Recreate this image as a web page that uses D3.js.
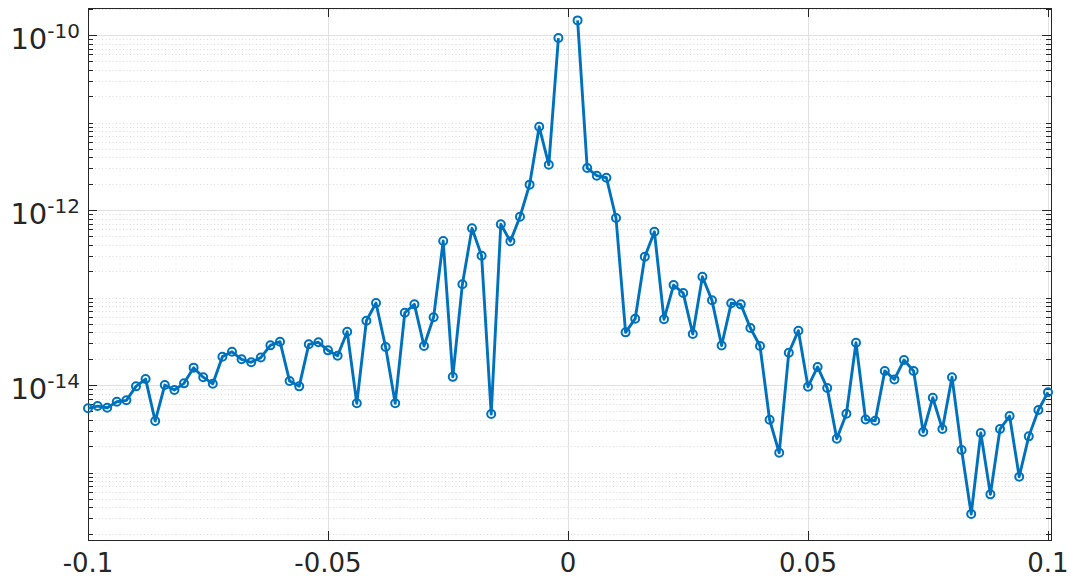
<!DOCTYPE html>
<html>
<head>
<meta charset="utf-8">
<script src="https://cdn.jsdelivr.net/npm/d3@7"></script>
<style>
  html, body { margin: 0; padding: 0; background: #fff; }
  svg { display: block; }
  text { font-family: "DejaVu Sans", sans-serif; fill: #262626; }
</style>
</head>
<body>
<svg id="chart" width="1071" height="578"></svg>
<script>
// Offsets sampled every 0.002 from -0.1 to 0.1 (the sample at 0 has no value)
const xValues = d3.range(101).map(i => +(-0.1 + 0.002 * i).toFixed(3));

// Magnitude at each offset
const yValues = [
  5.42e-15, 5.75e-15, 5.50e-15, 6.45e-15, 6.69e-15, 9.66e-15, 1.17e-14, 3.88e-15, 1.00e-14, 8.77e-15,
  1.045e-14, 1.58e-14, 1.23e-14, 1.035e-14, 2.11e-14, 2.40e-14, 1.97e-14, 1.82e-14, 2.06e-14, 2.84e-14,
  3.13e-14, 1.11e-14, 9.66e-15, 2.92e-14, 3.08e-14, 2.49e-14, 2.16e-14, 4.07e-14, 6.18e-15, 5.43e-14,
  8.65e-14, 2.72e-14, 6.18e-15, 6.70e-14, 8.36e-14, 2.79e-14, 5.94e-14, 4.42e-13, 1.24e-14, 1.42e-13,
  6.18e-13, 3.01e-13, 4.66e-15, 6.87e-13, 4.39e-13, 8.38e-13, 1.95e-12, 8.95e-12, 3.29e-12, 9.24e-11,
  null,
  1.47e-10, 3.02e-12, 2.47e-12, 2.34e-12, 8.11e-13, 4.00e-14, 5.73e-14, 2.92e-13, 5.65e-13, 5.64e-14,
  1.39e-13, 1.125e-13, 3.83e-14, 1.73e-13, 9.29e-14, 2.83e-14, 8.59e-14, 8.36e-14, 4.48e-14, 2.79e-14,
  4.01e-15, 1.68e-15, 2.34e-14, 4.18e-14, 9.57e-15, 1.61e-14, 9.24e-15, 2.43e-15, 4.70e-15, 3.04e-14,
  4.03e-15, 3.91e-15, 1.45e-14, 1.16e-14, 1.93e-14, 1.45e-14, 2.90e-15, 7.16e-15, 3.14e-15, 1.23e-14,
  1.81e-15, 3.36e-16, 2.83e-15, 5.63e-16, 3.14e-15, 4.42e-15, 8.95e-16, 2.59e-15, 5.18e-15, 8.26e-15
];

// Axis ticks
const xTicks = [-0.1, -0.05, 0, 0.05, 0.1];
const xTickLabels = ["-0.1", "-0.05", "0", "0.05", "0.1"];
const yTickExponents = [-14, -12, -10];
const yDomain = [Math.pow(10, -15.771), Math.pow(10, -9.691)];

const svg = d3.select("#chart");
const plot = { left: 88, right: 1048, top: 8, bottom: 540, frameRight: 1051 };

const x = d3.scaleLinear().domain([-0.1, 0.1]).range([plot.left, plot.right]);
const y = d3.scaleLog().domain(yDomain).range([plot.bottom, plot.top]);

const data = xValues.map((v, i) => ({ x: v, y: yValues[i] }));

// Minor log ticks: every m*10^k inside the domain that is not a labelled decade
const minorTicks = [];
for (let k = -16; k <= -9; k++) {
  for (let m = 1; m <= 9; m++) {
    const v = m * Math.pow(10, k);
    if (v < yDomain[0] || v > yDomain[1]) continue;
    if (m === 1 && yTickExponents.includes(k)) continue;
    minorTicks.push(v);
  }
}
const majorY = yTickExponents.map(e => Math.pow(10, e));

const grid = svg.append("g");
// minor dotted grid
grid.selectAll("line.minor").data(minorTicks).enter().append("line")
  .attr("x1", plot.left).attr("x2", plot.frameRight)
  .attr("y1", d => Math.round(y(d)) + 0.5).attr("y2", d => Math.round(y(d)) + 0.5)
  .attr("stroke", "#dadada").attr("stroke-width", 1).attr("stroke-dasharray", "1,2.5");
// major solid grid
grid.selectAll("line.majorY").data(majorY).enter().append("line")
  .attr("x1", plot.left).attr("x2", plot.frameRight)
  .attr("y1", d => Math.round(y(d)) + 0.5).attr("y2", d => Math.round(y(d)) + 0.5)
  .attr("stroke", "#e1e1e1").attr("stroke-width", 1);
grid.selectAll("line.majorX").data(xTicks).enter().append("line")
  .attr("x1", d => Math.round(x(d)) + 0.5).attr("x2", d => Math.round(x(d)) + 0.5)
  .attr("y1", plot.top).attr("y2", plot.bottom)
  .attr("stroke", "#e1e1e1").attr("stroke-width", 1);

// Frame and inward ticks
const axisColor = "#262626";
const axes = svg.append("g").attr("stroke", axisColor).attr("stroke-width", 1);
axes.append("rect")
  .attr("x", plot.left + 0.5).attr("y", plot.top + 0.5)
  .attr("width", plot.frameRight - plot.left).attr("height", plot.bottom - plot.top)
  .attr("fill", "none");
xTicks.forEach(t => {
  const px = Math.round(x(t)) + 0.5;
  axes.append("line").attr("x1", px).attr("x2", px).attr("y1", plot.bottom).attr("y2", plot.bottom - 9);
  axes.append("line").attr("x1", px).attr("x2", px).attr("y1", plot.top).attr("y2", plot.top + 9);
});
majorY.forEach(t => {
  const py = Math.round(y(t)) + 0.5;
  axes.append("line").attr("x1", plot.left).attr("x2", plot.left + 9).attr("y1", py).attr("y2", py);
  axes.append("line").attr("x1", plot.frameRight).attr("x2", plot.frameRight - 9).attr("y1", py).attr("y2", py);
});
minorTicks.forEach(t => {
  const py = Math.round(y(t)) + 0.5;
  axes.append("line").attr("x1", plot.left).attr("x2", plot.left + 5).attr("y1", py).attr("y2", py);
  axes.append("line").attr("x1", plot.frameRight).attr("x2", plot.frameRight - 5).attr("y1", py).attr("y2", py);
});

// X tick labels
svg.append("g").selectAll("text").data(xTicks).enter().append("text")
  .attr("x", d => x(d)).attr("y", 572)
  .attr("text-anchor", "middle").attr("font-size", 26)
  .text((d, i) => xTickLabels[i]);

// Y tick labels: 10 with superscript exponent
const yl = svg.append("g").selectAll("text").data(yTickExponents).enter().append("text")
  .attr("x", 80).attr("y", d => y(Math.pow(10, d)) + 14)
  .attr("text-anchor", "end").attr("font-size", 29);
yl.append("tspan").text("10");
yl.append("tspan").attr("font-size", 20).attr("dy", -11).text(d => String(d));

// Series line and circle markers
const lineGen = d3.line()
  .defined(d => d.y !== null)
  .x(d => x(d.x)).y(d => y(d.y));
svg.append("path").datum(data)
  .attr("d", lineGen)
  .attr("fill", "none").attr("stroke", "#0072BD").attr("stroke-width", 2.9)
  .attr("stroke-linejoin", "round");
svg.append("g").selectAll("circle").data(data.filter(d => d.y !== null)).enter().append("circle")
  .attr("cx", d => x(d.x)).attr("cy", d => y(d.y)).attr("r", 4)
  .attr("fill", "none").attr("stroke", "#0072BD").attr("stroke-width", 2);
</script>
</body>
</html>
